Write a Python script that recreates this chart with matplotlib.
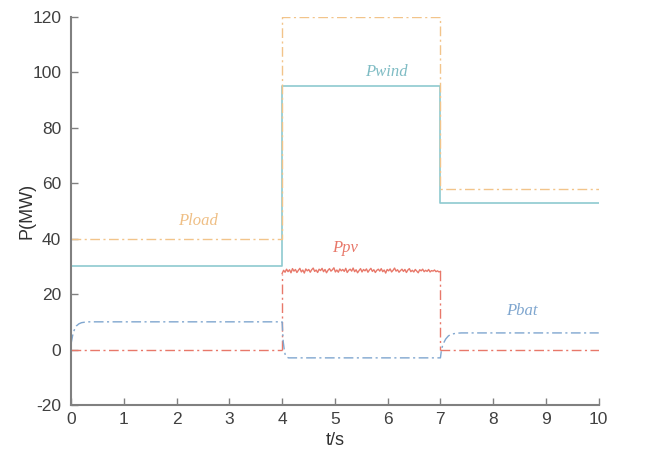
import matplotlib.pyplot as plt

plt.rcParams['font.family'] = ['Liberation Sans', 'DejaVu Sans']
plt.rcParams['axes.unicode_minus'] = False

# step series (t, value)
t_load = [0, 4, 4, 7, 7, 10]
p_load = [40, 40, 120, 120, 58, 58]

t_wind = [0, 4, 4, 7, 7, 10]
p_wind = [30, 30, 95, 95, 53, 53]

# battery power, first-order transitions
t_bat = [0, 0.03, 0.06, 0.1, 0.15, 0.2, 0.3, 0.4, 4.0, 4.02, 4.04, 4.06, 4.09, 4.12, 4.2,
         7.0, 7.02, 7.05, 7.1, 7.15, 7.2, 7.3, 7.4, 10]
p_bat = [2, 5, 7, 8.5, 9.3, 9.7, 10, 10, 10, 3, 0, -2, -2.7, -3, -3,
         -3, 0, 2, 3.8, 4.9, 5.5, 5.9, 6, 6]

# pv power, noisy plateau between t=4 and t=7
pv_noise = [27.4, 28.6, 27.9, 29.0, 28.1, 28.8, 27.7, 29.2, 28.3, 28.9, 27.8, 28.6,
            29.3, 28.0, 28.7, 27.6, 29.1, 28.4, 28.9, 27.9, 28.8, 29.4, 28.2, 28.7,
            27.8, 29.0, 28.5, 29.3, 28.1, 28.9, 27.7, 28.6, 29.2, 28.3, 28.8, 29.5,
            28.0, 28.7, 27.9, 29.1, 28.4, 28.9, 28.2, 29.3, 27.8, 28.6, 29.0, 28.3,
            29.4, 28.1, 28.8, 27.7, 28.5, 29.2, 28.0, 28.9, 28.4, 29.1, 27.9, 28.7,
            29.3, 28.2, 28.8, 27.8, 28.6, 29.0, 28.3, 29.2, 28.1, 28.7, 27.6, 28.9,
            28.4, 29.1, 28.0, 28.6, 29.4, 28.3, 28.8, 27.9, 28.5, 29.0, 28.2, 28.9,
            27.8, 28.7, 29.2, 28.1, 28.6, 28.0, 28.9, 28.3, 27.7, 28.8, 28.4, 29.0,
            28.1, 28.6, 28.2, 28.9, 28.0, 28.5, 28.3, 28.7, 28.1, 28.4, 28.0, 28.2]
t_pv_mid = [4 + 3 * i / (len(pv_noise) - 1) for i in range(len(pv_noise))]
t_pv = [0, 4] + t_pv_mid + [7, 10]
p_pv = [0, 0] + pv_noise + [0, 0]

c_load = '#f2c48a'
c_wind = '#8ec9cf'
c_pv = '#e8786a'
c_bat = '#7fa6cf'
dashdot = (0, (7, 2.5, 1.5, 2.5))

fig = plt.figure(figsize=(6.48, 4.53), dpi=100)
ax = fig.add_axes([0.1096, 0.106, 0.8144, 0.8565])

ax.plot(t_pv[:2], p_pv[:2], color=c_pv, lw=1.0, ls=dashdot)
ax.plot([4, 4], [0, pv_noise[0]], color=c_pv, lw=1.0, ls=dashdot)
ax.plot(t_pv_mid, pv_noise, color=c_pv, lw=1.0)
ax.plot([7, 7], [pv_noise[-1], 0], color=c_pv, lw=1.0, ls=dashdot)
ax.plot(t_pv[-2:], p_pv[-2:], color=c_pv, lw=1.0, ls=dashdot)
ax.plot(t_bat, p_bat, color=c_bat, lw=1.0, ls=dashdot)
ax.plot(t_wind, p_wind, color=c_wind, lw=1.2)
ax.plot(t_load, p_load, color=c_load, lw=1.0, ls=dashdot)

serif = dict(family='Liberation Serif', style='italic', fontsize=12, ha='center', va='center')
ax.text(2.4, 46.4, 'Pload', color='#efbf85', **serif)
ax.text(5.98, 100, 'Pwind', color='#7fbcc4', **serif)
ax.text(5.2, 36.6, 'Ppv', color=c_pv, **serif)
ax.text(8.54, 14, 'Pbat', color=c_bat, **serif)

ax.set_xlim(0, 10)
ax.set_ylim(-20, 120)
ax.set_xticks(range(0, 11))
ax.set_yticks(range(-20, 121, 20))
for s in ['top', 'right']:
    ax.spines[s].set_visible(False)
for s in ['left', 'bottom']:
    ax.spines[s].set_color('#808080')
    ax.spines[s].set_linewidth(1.5)
ax.tick_params(direction='in', length=5, width=1, color='#808080',
               labelsize=12.5, labelcolor='#404040')
ax.tick_params(axis='y', pad=7)
ax.tick_params(axis='x', pad=5)
ax.set_xlabel('t/s', fontsize=13, color='#303030', labelpad=4)
ax.set_ylabel('P(MW)', fontsize=13, color='#303030', labelpad=-2)

fig.savefig('out.png', dpi=100)
